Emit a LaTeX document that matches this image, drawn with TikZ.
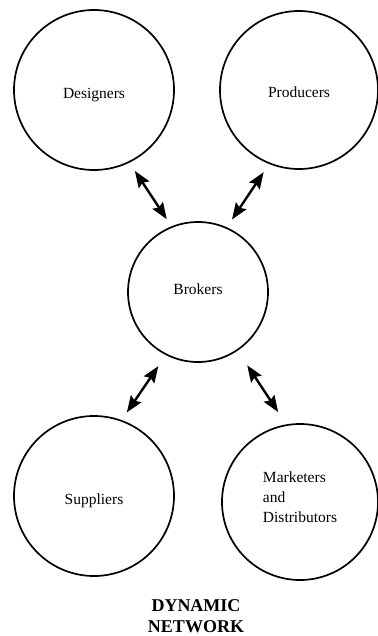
\documentclass[tikz,border=0pt]{standalone}
\usepackage{fontspec}
\setmainfont{Liberation Serif}
\usetikzlibrary{arrows.meta}
% text whose baseline sits at the node centre, moved by #1
\newcommand\lowered[2]{\raisebox{#1}[0pt][0pt]{#2}}

\begin{document}
\begin{tikzpicture}[x=1pt,y=-1pt,
  hub/.style={draw, circle, line width=1.7pt, inner sep=0pt,
    font=\fontsize{15.5}{20}\selectfont},
  tip/.tip={Stealth[length=16.5pt,width=12.5pt,inset=2.5pt]},
  link/.style={line width=2.4pt, tip-tip},
]
\useasboundingbox (0,0) rectangle (377,636);

% the five members of the network
\node[hub, minimum size=160pt] (des) at (94,90)  {\lowered{-8.5pt}{Designers}};
\node[hub, minimum size=158pt] (pro) at (299,90) {\lowered{-8pt}{Producers}};
\node[hub, minimum size=140pt] (bro) at (198,292) {\lowered{-2pt}{Brokers}};
\node[hub, minimum size=160pt] (sup) at (94,496) {\lowered{-8pt}{Suppliers}};
\node[hub, minimum size=156pt] (mar) at (300,502)
  {\lowered{-20pt}{\begin{tabular}[b]{@{}l@{}}Marketers\\and\\Distributors\end{tabular}}};

% two-way links through the brokers
\draw[link, shorten <=9.9pt,  shorten >=8.5pt]  (des.-64.7)  -- (bro.112.0);
\draw[link, shorten <=9.8pt,  shorten >=9.3pt]  (pro.-112.8) -- (bro.66.5);
\draw[link, shorten <=13.3pt, shorten >=9.2pt]  (bro.-117.8) -- (sup.70.3);
\draw[link, shorten <=17.4pt, shorten >=14.7pt] (bro.-56.8)  -- (mar.100.2);

% caption
\node[font=\fontsize{18}{21}\selectfont\bfseries] (ttl) at (196,611)
  {\lowered{0pt}{\begin{tabular}[t]{@{}c@{}}DYNAMIC\\NETWORK\end{tabular}}};
\end{tikzpicture}
\end{document}
